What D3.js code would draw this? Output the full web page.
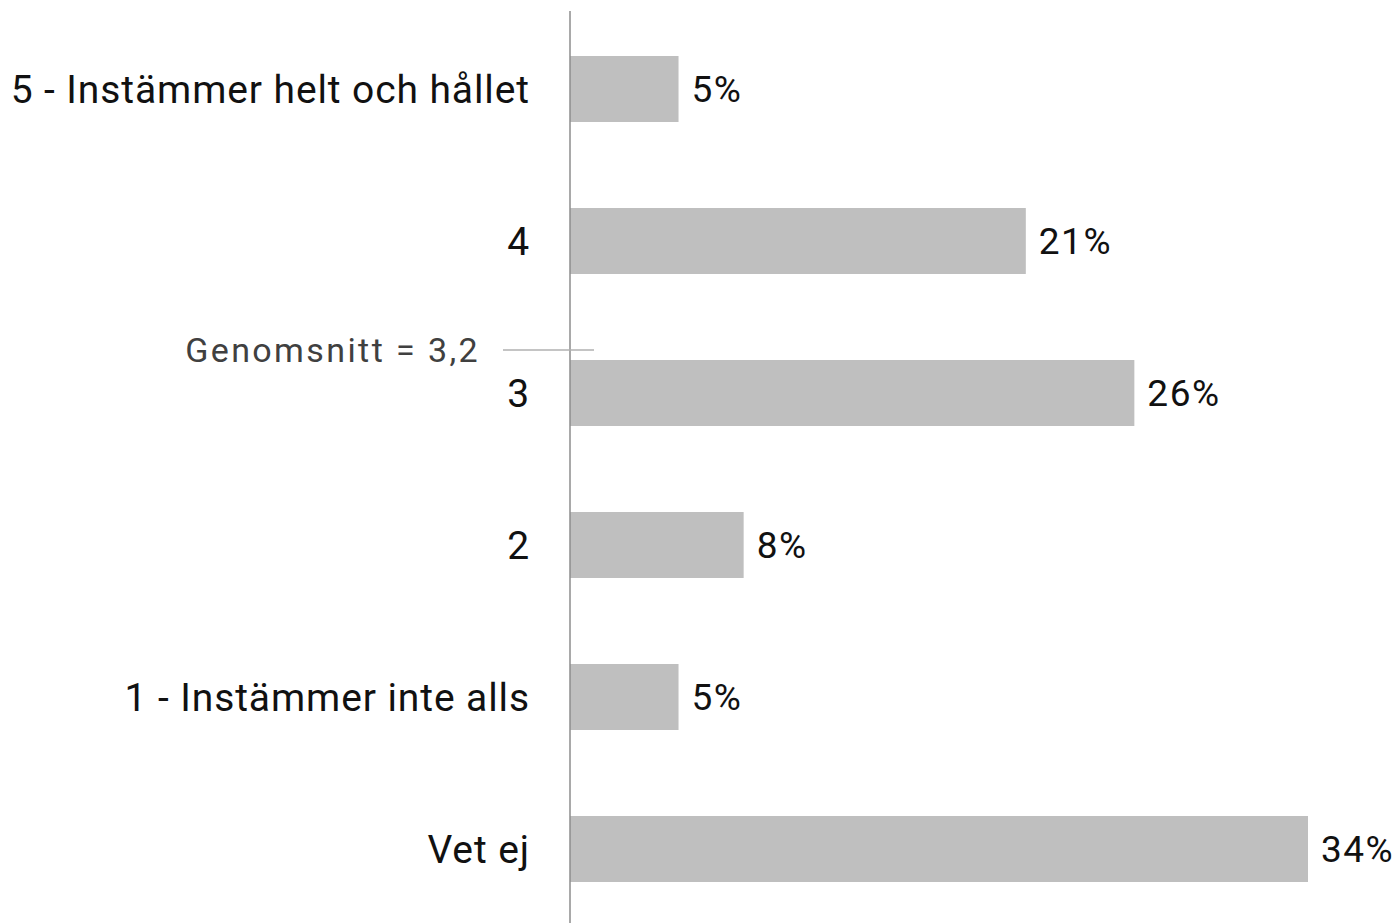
<!DOCTYPE html>
<html>
  <head>
    <meta charset="utf-8">
    <title>Instämmer - fördelning</title>
    <style>
      body { margin: 0; background: #fff; }
      svg { font-family: Roboto, "DejaVu Sans Condensed", sans-serif; }
      .cat { font-size: 39px; fill: #111; text-anchor: end; letter-spacing: 0.9px; }
      .val { font-size: 37px; fill: #111; letter-spacing: 1.5px; }
      .mean { font-size: 34px; fill: #404040; letter-spacing: 2.4px; text-anchor: end; }
    </style>
  </head>
  <body>
    <svg width="1400" height="923"></svg>

    <script src="https://d3js.org/d3.v7.min.js"></script>
    <script>
      // Data
      const categories = ['5 - Instämmer helt och hållet', '4', '3', '2', '1 - Instämmer inte alls', 'Vet ej'];
      const values = [5, 21, 26, 8, 5, 34];
      const meanLabel = 'Genomsnitt = 3,2';

      const width = 1400;
      const height = 923;
      const axisX = 570;

      const svg = d3.select('svg')
        .attr('width', width)
        .attr('height', height);

      // Scales
      const y = d3.scaleBand()
        .domain(categories)
        .range([13, 925])
        .paddingInner(0.566)
        .paddingOuter(0.283);

      const x = d3.scaleLinear()
        .domain([0, 34])
        .range([axisX, 1308]);

      // Bars
      svg.selectAll('.bar')
        .data(categories)
        .enter()
        .append('rect')
        .attr('class', 'bar')
        .attr('x', x(0))
        .attr('y', d => y(d))
        .attr('width', (d, i) => x(values[i]) - x(0))
        .attr('height', y.bandwidth())
        .attr('fill', '#bfbfbf');

      // Value labels
      svg.selectAll('.val')
        .data(categories)
        .enter()
        .append('text')
        .attr('class', 'val')
        .attr('x', (d, i) => x(values[i]) + 13)
        .attr('y', d => y(d) + y.bandwidth() / 2)
        .attr('dy', '0.36em')
        .text((d, i) => values[i] + '%');

      // Category labels
      svg.selectAll('.cat')
        .data(categories)
        .enter()
        .append('text')
        .attr('class', 'cat')
        .attr('x', axisX - 40)
        .attr('y', d => y(d) + y.bandwidth() / 2)
        .attr('dy', '0.36em')
        .text(d => d);

      // Vertical axis line
      svg.append('line')
        .attr('x1', axisX).attr('x2', axisX)
        .attr('y1', 11).attr('y2', height)
        .attr('stroke', '#8c8c8c')
        .attr('stroke-width', 1.5);

      // Mean marker, just above the "3" bar
      const meanY = y('3') - 10;
      svg.append('line')
        .attr('x1', axisX - 67).attr('x2', axisX + 24)
        .attr('y1', meanY).attr('y2', meanY)
        .attr('stroke', '#b0b0b0')
        .attr('stroke-width', 1.5);

      svg.append('text')
        .attr('class', 'mean')
        .attr('x', 480)
        .attr('y', meanY)
        .attr('dy', '0.36em')
        .text(meanLabel);
    </script>
  </body>
</html>
